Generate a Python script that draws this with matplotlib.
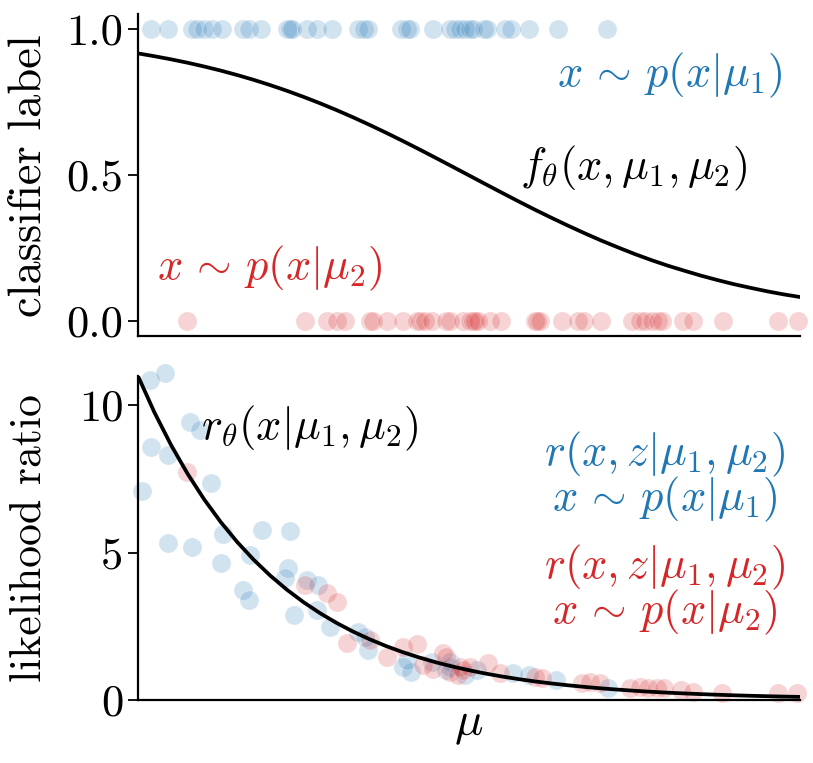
import matplotlib
matplotlib.use('Agg')
import matplotlib.pyplot as plt

# Fonts: Computer Modern look
plt.rcParams['font.family'] = 'serif'
plt.rcParams['font.serif'] = ['cmr10']
plt.rcParams['mathtext.fontset'] = 'cm'
plt.rcParams['axes.formatter.use_mathtext'] = True

blue = '#1f77b4'
red = '#d62728'

# Model curves
mu_grid = [0.000, 0.025, 0.050, 0.075, 0.100, 0.125, 0.150, 0.175, 0.200, 0.225,
           0.250, 0.275, 0.300, 0.325, 0.350, 0.375, 0.400, 0.425, 0.450, 0.475,
           0.500, 0.525, 0.550, 0.575, 0.600, 0.625, 0.650, 0.675, 0.700, 0.725,
           0.750, 0.775, 0.800, 0.825, 0.850, 0.875, 0.900, 0.925, 0.950, 0.975, 1.000]
ratio_curve = [11.000, 9.756, 8.653, 7.675, 6.806, 6.037, 5.354, 4.749, 4.211, 3.735,
               3.313, 2.938, 2.606, 2.311, 2.050, 1.818, 1.612, 1.430, 1.268, 1.125,
               0.998, 0.885, 0.785, 0.696, 0.617, 0.548, 0.486, 0.431, 0.382, 0.339,
               0.300, 0.266, 0.236, 0.210, 0.186, 0.165, 0.146, 0.130, 0.115, 0.102, 0.091]
classifier_curve = [0.9167, 0.9070, 0.8964, 0.8847, 0.8719, 0.8579, 0.8426, 0.8261, 0.8081, 0.7888,
                    0.7681, 0.7461, 0.7227, 0.6980, 0.6721, 0.6451, 0.6172, 0.5885, 0.5591, 0.5294,
                    0.4995, 0.4695, 0.4398, 0.4104, 0.3816, 0.3540, 0.3271, 0.3012, 0.2764, 0.2532,
                    0.2308, 0.2101, 0.1909, 0.1736, 0.1568, 0.1416, 0.1274, 0.1150, 0.1031, 0.0926, 0.0834]

# Samples x ~ p(x|mu1), label 1
mu1_samples = [0.020, 0.045, 0.081, 0.089, 0.099, 0.112, 0.127, 0.159, 0.167, 0.186,
               0.225, 0.230, 0.232, 0.255, 0.270, 0.293, 0.333, 0.342, 0.348, 0.398,
               0.407, 0.411, 0.445, 0.471, 0.479, 0.486, 0.494, 0.502, 0.506, 0.522,
               0.527, 0.554, 0.564, 0.591, 0.634, 0.708]
# Samples x ~ p(x|mu2), label 0
mu2_samples = [0.074, 0.252, 0.285, 0.300, 0.313, 0.350, 0.355, 0.376, 0.401, 0.421,
               0.426, 0.434, 0.444, 0.466, 0.471, 0.491, 0.502, 0.506, 0.509, 0.514,
               0.532, 0.549, 0.600, 0.602, 0.607, 0.640, 0.665, 0.673, 0.699, 0.746,
               0.758, 0.766, 0.776, 0.786, 0.791, 0.824, 0.839, 0.883, 0.967, 0.997]

# Joint likelihood ratios r(x,z|mu1,mu2)
ratio_mu1_x = [0.018, 0.041, 0.006, 0.019, 0.046, 0.079, 0.094, 0.111, 0.046, 0.081,
               0.128, 0.126, 0.169, 0.187, 0.230, 0.227, 0.222, 0.159, 0.167, 0.255,
               0.272, 0.235, 0.270, 0.290, 0.333, 0.343, 0.348, 0.401, 0.413, 0.444,
               0.466, 0.471, 0.494, 0.406, 0.471, 0.512, 0.567, 0.590, 0.632, 0.710]
ratio_mu1_y = [10.85, 11.10, 7.10, 8.60, 8.30, 9.43, 9.15, 7.36, 5.32, 5.19,
               5.64, 4.65, 4.93, 5.78, 5.73, 4.46, 4.12, 3.72, 3.38, 4.06,
               3.89, 2.87, 3.04, 2.47, 2.30, 2.13, 1.68, 1.12, 0.95, 1.29,
               1.00, 1.29, 0.83, 1.34, 1.12, 1.00, 0.89, 0.83, 0.66, 0.38]
ratio_mu2_x = [0.074, 0.252, 0.285, 0.300, 0.315, 0.350, 0.376, 0.401, 0.421, 0.431,
               0.446, 0.461, 0.466, 0.471, 0.484, 0.486, 0.491, 0.502, 0.529, 0.547,
               0.600, 0.610, 0.670, 0.683, 0.698, 0.743, 0.758, 0.771, 0.784, 0.794,
               0.821, 0.839, 0.882, 0.967, 0.995]
ratio_mu2_y = [7.73, 3.89, 3.61, 3.32, 1.91, 2.02, 1.46, 1.80, 1.88, 1.17,
               1.03, 1.57, 1.46, 0.95, 0.83, 1.12, 1.00, 1.12, 1.23, 0.89,
               0.78, 0.72, 0.55, 0.61, 0.55, 0.38, 0.44, 0.40, 0.38, 0.38,
               0.33, 0.27, 0.21, 0.21, 0.21]

fig = plt.figure(figsize=(8.13, 7.63), dpi=100)
ax1 = fig.add_axes([0.1697, 0.5596, 0.8143, 0.4215])
ax2 = fig.add_axes([0.1697, 0.0831, 0.8143, 0.4241])

fs = 32
dot = dict(s=190, alpha=0.2, edgecolors='white', linewidths=1.0, clip_on=False)

# Top panel: classifier
ax1.scatter(mu1_samples, [1] * len(mu1_samples), color=blue, **dot)
ax1.scatter(mu2_samples, [0] * len(mu2_samples), color=red, **dot)
ax1.plot(mu_grid, classifier_curve, color='black', lw=2.7, zorder=3)
ax1.set_xlim(0, 1)
ax1.set_ylim(-0.05, 1.05)
ax1.set_yticks([0.0, 0.5, 1.0])
ax1.set_yticklabels(['0.0', '0.5', '1.0'])
ax1.set_ylabel('classifier label', fontsize=33.5)
ax1.text(0.804, 0.84, r'$x\,\sim\,p(x|\mu_1)$', color=blue, fontsize=fs, ha='center', va='center')
ax1.text(0.748, 0.524, r'$f_\theta(x,\mu_1,\mu_2)$', color='black', fontsize=fs, ha='center', va='center')
ax1.text(0.20, 0.18, r'$x\,\sim\,p(x|\mu_2)$', color=red, fontsize=fs, ha='center', va='center')

# Bottom panel: likelihood ratio
ax2.scatter(ratio_mu1_x, ratio_mu1_y, color=blue, **dot)
ax2.scatter(ratio_mu2_x, ratio_mu2_y, color=red, **dot)
ax2.plot(mu_grid, ratio_curve, color='black', lw=2.7, zorder=3)
ax2.set_xlim(0, 1)
ax2.set_ylim(0, 11)
ax2.set_yticks([0, 5, 10])
ax2.set_yticklabels(['0', '5', '10'])
ax2.set_ylabel('likelihood ratio', fontsize=31.5)
ax2.set_xlabel(r'$\mu$', fontsize=34)
ax2.text(0.26, 9.22, r'$r_\theta(x|\mu_1,\mu_2)$', color='black', fontsize=fs, ha='center', va='center')
ax2.text(0.796, 8.35, r'$r(x,z|\mu_1,\mu_2)$', color=blue, fontsize=fs, ha='center', va='center')
ax2.text(0.796, 6.80, r'$x\,\sim\,p(x|\mu_1)$', color=blue, fontsize=fs, ha='center', va='center')
ax2.text(0.796, 4.50, r'$r(x,z|\mu_1,\mu_2)$', color=red, fontsize=fs, ha='center', va='center')
ax2.text(0.796, 2.95, r'$x\,\sim\,p(x|\mu_2)$', color=red, fontsize=fs, ha='center', va='center')

for ax in (ax1, ax2):
    ax.spines['top'].set_visible(False)
    ax.spines['right'].set_visible(False)
    ax.spines['left'].set_linewidth(1.6)
    ax.spines['bottom'].set_linewidth(1.6)
    ax.set_xticks([])
    ax.tick_params(axis='y', labelsize=fs, length=7, width=1.3)
    ax.yaxis.set_label_coords(-0.133, 0.5)

fig.savefig('out.png', dpi=100)
